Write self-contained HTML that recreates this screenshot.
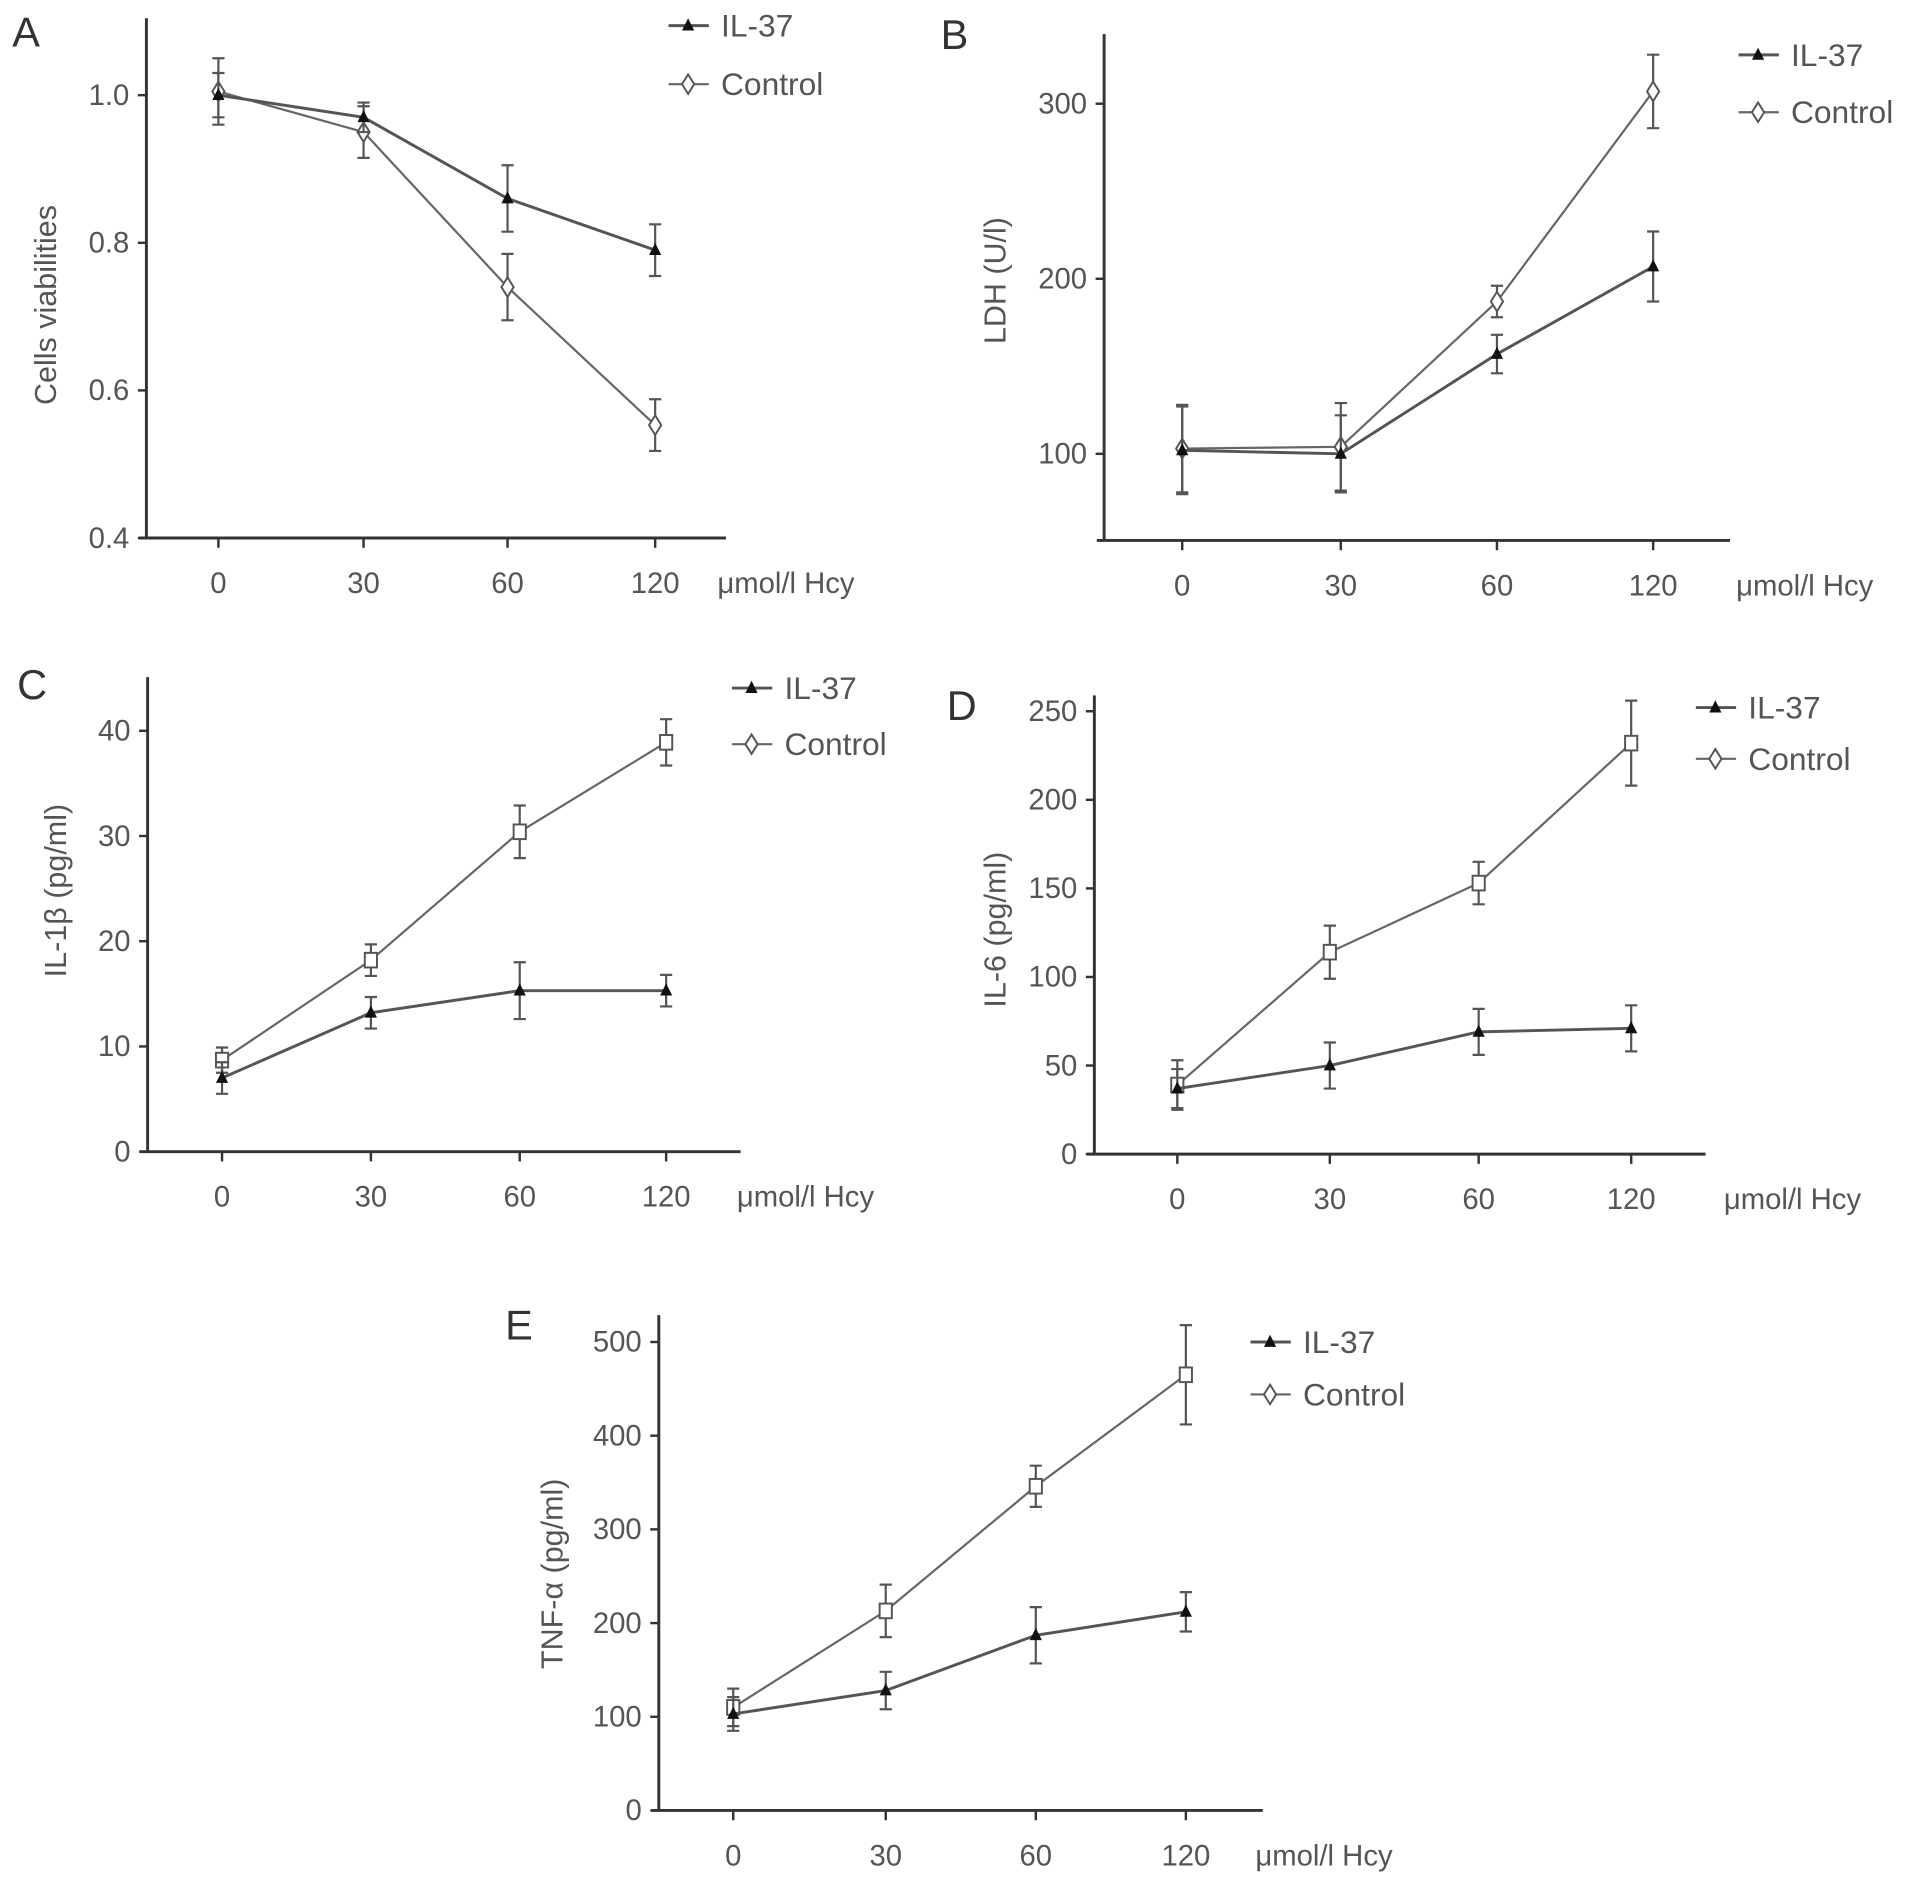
<!DOCTYPE html>
<html><head><meta charset="utf-8"><style>
html,body{margin:0;padding:0;background:#fff;}
svg{display:block;}
text{font-family:"Liberation Sans",sans-serif;fill:#555;}
</style></head><body>
<svg id="fig" width="1913" height="1880" viewBox="0 0 1568 1541" preserveAspectRatio="none" xmlns="http://www.w3.org/2000/svg"></svg>
<script>
const categories = ["0","30","60","120"];
const a_ticks = [0.4,0.6,0.8,1.0];
const a_il37 = [1.0,0.97,0.86,0.79];
const a_il37_err = [0.03,0.02,0.045,0.035];
const a_ctrl = [1.005,0.95,0.74,0.553];
const a_ctrl_err = [0.045,0.035,0.045,0.035];
const b_ticks = [100,200,300];
const b_il37 = [102,100,157,207];
const b_il37_err = [25,22,11,20];
const b_ctrl = [103,104,187,307];
const b_ctrl_err = [25,25,9,21];
const c_ticks = [0,10,20,30,40];
const c_il37 = [7,13.2,15.3,15.3];
const c_il37_err = [1.5,1.5,2.7,1.5];
const c_ctrl = [8.7,18.2,30.4,38.9];
const c_ctrl_err = [1.2,1.5,2.5,2.2];
const d_ticks = [0,50,100,150,200,250];
const d_il37 = [37,50,69,71];
const d_il37_err = [11,13,13,13];
const d_ctrl = [39,114,153,232];
const d_ctrl_err = [14,15,12,24];
const e_ticks = [0,100,200,300,400,500];
const e_il37 = [103,128,187,212];
const e_il37_err = [18,20,30,21];
const e_ctrl = [110,213,346,465];
const e_ctrl_err = [20,28,22,53];

const NS="http://www.w3.org/2000/svg";
const svg=document.getElementById('fig');
function mk(tag,attrs,parent,txt){const e=document.createElementNS(NS,tag);for(const k in attrs)e.setAttribute(k,attrs[k]);if(txt!==undefined)e.textContent=txt;(parent||svg).appendChild(e);return e;}

const panels=[
 {id:'a',letter:'A',lx:10,ly:38,ax:120,top:15,bot:441,right:595,xs:[179,298,416,537],v0:0.4,y0:441,v1:1.0,y1:78,ticks:a_ticks,fmt:v=>v.toFixed(1),ylab:'Cells viabilities',ylx:46,yly:250,il:a_il37,ile:a_il37_err,ct:a_ctrl,cte:a_ctrl_err,sq:false,legx:548,legy:[20,68],hx:588},
 {id:'b',letter:'B',lx:771,ly:40,ax:905,top:28,bot:443,right:1418,xs:[969,1099,1227,1355],v0:100,y0:372,v1:300,y1:85,ticks:b_ticks,fmt:v=>String(v),ylab:'LDH (U/l)',ylx:824,yly:230,il:b_il37,ile:b_il37_err,ct:b_ctrl,cte:b_ctrl_err,sq:false,legx:1425,legy:[44,91],hx:1423},
 {id:'c',letter:'C',lx:14,ly:573,ax:121,top:555,bot:944,right:607,xs:[182,304,426,546],v0:0,y0:944,v1:40,y1:599,ticks:c_ticks,fmt:v=>String(v),ylab:'IL-1β (pg/ml)',ylx:54,yly:730,il:c_il37,ile:c_il37_err,ct:c_ctrl,cte:c_ctrl_err,sq:true,legx:600,legy:[563,609],hx:604},
 {id:'d',letter:'D',lx:776,ly:590,ax:897,top:570,bot:946,right:1398,xs:[965,1090,1212,1337],v0:0,y0:946,v1:250,y1:583,ticks:d_ticks,fmt:v=>String(v),ylab:'IL-6 (pg/ml)',ylx:824,yly:762,il:d_il37,ile:d_il37_err,ct:d_ctrl,cte:d_ctrl_err,sq:true,legx:1390,legy:[579,621],hx:1413},
 {id:'e',letter:'E',lx:414,ly:1098,ax:540,top:1078,bot:1484,right:1035,xs:[601,726,849,972],v0:0,y0:1484,v1:500,y1:1100,ticks:e_ticks,fmt:v=>String(v),ylab:'TNF-α (pg/ml)',ylx:461,yly:1290,il:e_il37,ile:e_il37_err,ct:e_ctrl,cte:e_ctrl_err,sq:true,legx:1025,legy:[1099,1142],hx:1029}
];

panels.forEach(p=>{
 const g=mk('g',{});
 
 
 const y=v=>p.y0+(v-p.v0)*(p.y1-p.y0)/(p.v1-p.v0);
 const x=i=>p.xs[i];
 const L=mk('text',{x:p.lx,y:p.ly,'font-size':34,style:'fill:#333'},g,p.letter);
 
 
 const axes=mk('path',{d:`M${p.ax},${p.top}V${p.bot}M${p.ax-6},${p.bot}H${p.right}`,stroke:'#333','stroke-width':2.4,fill:'none'},g);
 
 
 p.ticks.forEach(t=>{
  mk('line',{x1:p.ax-7,x2:p.ax,y1:y(t),y2:y(t),stroke:'#333','stroke-width':2},g);
  const tl=mk('text',{x:p.ax-14,y:y(t)+8,'font-size':24,'text-anchor':'end'},g,p.fmt(t));
  
  
 });
 categories.forEach((c,i)=>{
  mk('line',{x1:x(i),x2:x(i),y1:p.bot,y2:p.bot+8,stroke:'#333','stroke-width':2},g);
  const tl=mk('text',{x:x(i),y:p.bot+45,'font-size':24,'text-anchor':'middle'},g,c);
  
  
 });
 const xt=mk('text',{x:p.hx,y:p.bot+45,'font-size':24},g,'μmol/l Hcy');
 
 
 const yt=mk('text',{x:0,y:0,'font-size':25,'text-anchor':'middle',transform:`translate(${p.ylx},${p.yly}) rotate(-90)`},g,p.ylab);
 
 
 function series(vals,errs,kind){
  const sg=mk('g',{},g);
  
  
  vals.forEach((v,i)=>{
   const e=errs[i];
   const eb=mk('path',{d:`M${x(i)},${y(v+e)}V${y(v-e)}M${x(i)-5},${y(v+e)}h10M${x(i)-5},${y(v-e)}h10`,stroke:'#555','stroke-width':1.8,fill:'none'},sg);
   
   
  });
  const ln=mk('polyline',{points:vals.map((v,i)=>x(i)+','+y(v)).join(' '),stroke:kind==='il37'?'#555':'#666','stroke-width':kind==='il37'?2.4:1.8,fill:'none'},sg);
  
  
  vals.forEach((v,i)=>{
   let m;
   const cx=x(i),cy=y(v);
   if(kind==='il37') m=mk('path',{d:`M${cx},${cy-6}L${cx+5},${cy+4}L${cx-5},${cy+4}Z`,fill:'#111'},sg);
   else if(p.sq) m=mk('rect',{x:cx-5,y:cy-6,width:10,height:12,fill:'#fff',stroke:'#555','stroke-width':1.6},sg);
   else m=mk('path',{d:`M${cx},${cy-8}L${cx+5},${cy}L${cx},${cy+8}L${cx-5},${cy}Z`,fill:'#fff',stroke:'#555','stroke-width':1.6},sg);
   
   
  });
 }
 series(p.ct,p.cte,'control');
 series(p.il,p.ile,'il37');
 const lg=mk('g',{},g);
 
 
 const ly0=p.legy[0]+1, ly1=p.legy[1]+1;
 mk('line',{x1:p.legx,x2:p.legx+33,y1:ly0,y2:ly0,stroke:'#555','stroke-width':2.4},lg);
 mk('path',{d:`M${p.legx+16},${ly0-6}l5,10h-10z`,fill:'#111'},lg);
 const t1=mk('text',{x:p.legx+43,y:ly0+9,'font-size':26},lg,'IL-37');
 
 
 mk('line',{x1:p.legx,x2:p.legx+33,y1:ly1,y2:ly1,stroke:'#666','stroke-width':1.8},lg);
 mk('path',{d:`M${p.legx+16},${ly1-8}l5,8l-5,8l-5,-8z`,fill:'#fff',stroke:'#555','stroke-width':1.6},lg);
 const t2=mk('text',{x:p.legx+43,y:ly1+9,'font-size':26},lg,'Control');
 
 
});
</script>
</body></html>
